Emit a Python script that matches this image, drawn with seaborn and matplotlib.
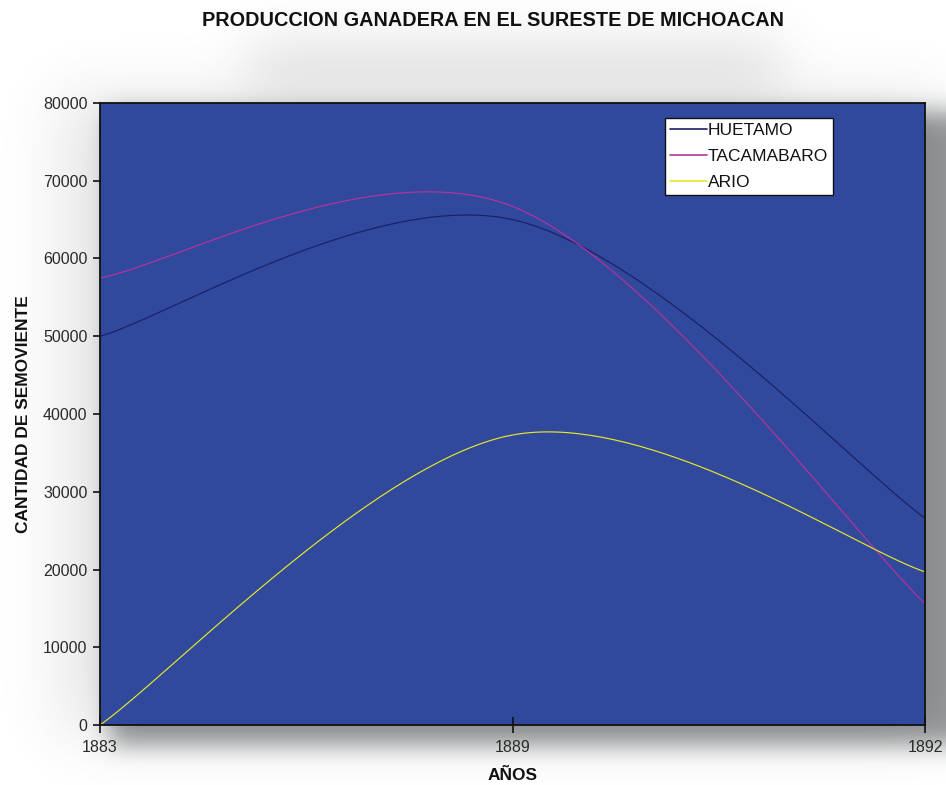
import numpy as np
import pandas as pd
import matplotlib
matplotlib.use("Agg")
import matplotlib.pyplot as plt
import seaborn as sns

# Cabezas de ganado por distrito
years = ["1883", "1889", "1892"]
huetamo = [50000, 65000, 26600]
tacamabaro = [57500, 66700, 15600]
ario = [0, 37300, 19700]

series_names = ["HUETAMO", "TACAMABARO", "ARIO"]
series_values = [huetamo, tacamabaro, ario]
palette = {"HUETAMO": "#1c1f66", "TACAMABARO": "#b8329c", "ARIO": "#e8e628"}


def smooth_curve(vals, n=80):
    """Bezier smoothing through the points (spreadsheet style)."""
    pts = np.column_stack([np.arange(len(vals), dtype=float), np.asarray(vals, float)])
    out = []
    for i in range(len(pts) - 1):
        p0 = pts[max(i - 1, 0)]
        p1 = pts[i]
        p2 = pts[i + 1]
        p3 = pts[min(i + 2, len(pts) - 1)]
        c1 = p1 + (p2 - p0) / 6.0
        c2 = p2 - (p3 - p1) / 6.0
        t = np.linspace(0, 1, n)[:, None]
        seg = ((1 - t) ** 3) * p1 + 3 * ((1 - t) ** 2) * t * c1 + 3 * (1 - t) * t ** 2 * c2 + t ** 3 * p2
        out.append(seg if i == 0 else seg[1:])
    return np.vstack(out)


frames = []
for name, vals in zip(series_names, series_values):
    c = smooth_curve(vals)
    frames.append(pd.DataFrame({"x": c[:, 0], "y": c[:, 1], "serie": name, "order": np.arange(len(c))}))
df = pd.concat(frames, ignore_index=True)

sns.set_theme(style="white")
plt.rcParams["font.family"] = ["Liberation Sans", "DejaVu Sans"]

W, H, DPI = 946, 785, 100
fig = plt.figure(figsize=(W / DPI, H / DPI), dpi=DPI, facecolor="white")

# soft gray drop shadow behind the title and the plotting area
def blur(a, sigma):
    r = int(3 * sigma)
    k = np.exp(-0.5 * (np.arange(-r, r + 1) / sigma) ** 2)
    k /= k.sum()
    a = np.apply_along_axis(lambda v: np.convolve(np.pad(v, r, mode="edge"), k, mode="valid"), 0, a)
    a = np.apply_along_axis(lambda v: np.convolve(np.pad(v, r, mode="edge"), k, mode="valid"), 1, a)
    return a

m1 = np.zeros((H, W)); m1[112:745, 110:960] = 1.0
m2 = np.zeros((H, W)); m2[95:735, 60:940] = 1.0
m3 = np.zeros((H, W)); m3[45:85, 250:780] = 1.0
mask = 0.58 * blur(m1, 12) + 0.14 * blur(m2, 30) + 0.2 * blur(m3, 26)
mask = np.clip(mask, 0, 0.72)
rgba = np.zeros((H, W, 4))
rgba[..., 0] = 0.32
rgba[..., 1] = 0.33
rgba[..., 2] = 0.34
rgba[..., 3] = mask
fig.figimage(rgba[::-1], xo=0, yo=0, origin="lower", zorder=-5)

left, right, top, bottom = 100, 925, 103, 725
ax = fig.add_axes([left / W, (H - bottom) / H, (right - left) / W, (bottom - top) / H])
ax.set_zorder(5)
ax.set_facecolor("#30499c")

sns.lineplot(data=df, x="x", y="y", hue="serie", hue_order=series_names, palette=palette,
             sort=False, estimator=None, units="serie", linewidth=0.85, ax=ax)

ax.set_xlim(0, len(years) - 1)
ax.set_ylim(0, 80000)
ax.set_xticks(range(len(years)))
ax.set_xticklabels(years)
ax.set_yticks(np.arange(0, 80001, 10000))
ax.set_yticklabels([str(v) for v in range(0, 80001, 10000)])
ax.tick_params(axis="y", direction="out", length=5, width=1.2, color="#111111",
               labelsize=11.5, labelcolor="#2a2a2a", pad=4, left=True)
ax.tick_params(axis="x", direction="inout", length=11, width=1.2, color="#111111",
               labelsize=11.5, labelcolor="#2a2a2a", pad=5, bottom=True)
for s in ax.spines.values():
    s.set_visible(True)
    s.set_color("#111111")
    s.set_linewidth(1.3)

ax.set_xlabel("AÑOS", fontsize=12.5, fontweight="bold", color="#111111", labelpad=10)
ax.set_ylabel("CANTIDAD DE SEMOVIENTE", fontsize=12.5, fontweight="bold", color="#111111", labelpad=9)

fig.text(493 / W, 1 - 20 / H, "PRODUCCION GANADERA EN EL SURESTE DE MICHOACAN",
         ha="center", va="center", fontsize=14.3, fontweight="bold", color="#111111")

handles, labels = ax.get_legend_handles_labels()
for h in handles:
    h.set_linewidth(1.2)
leg = ax.legend(handles, labels, loc="upper right",
                bbox_to_anchor=((833 - left) / (right - left), (bottom - 118) / (bottom - top)),
                frameon=True, fancybox=False, framealpha=1, edgecolor="#111111", facecolor="white",
                fontsize=12.5, handlelength=2.1, handletextpad=0.05, borderpad=0.3, labelspacing=0.62,
                borderaxespad=0)
leg.get_frame().set_linewidth(1.0)
for t in leg.get_texts():
    t.set_color("#111111")

fig.savefig("out.png", dpi=DPI, facecolor="white")
